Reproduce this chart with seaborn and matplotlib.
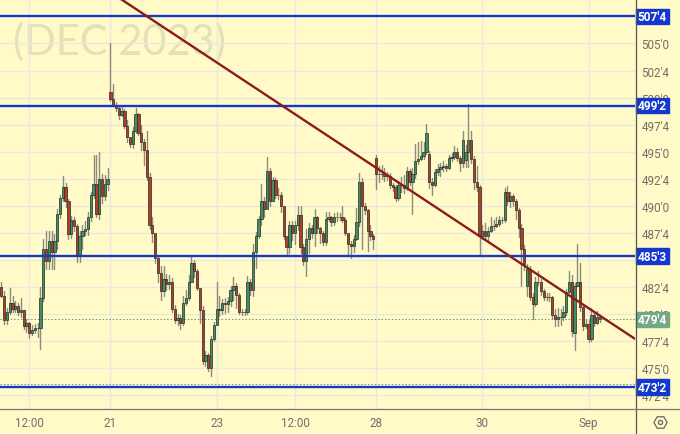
import pandas as pd
import matplotlib
matplotlib.use("Agg")
import matplotlib.pyplot as plt
import seaborn as sns
from matplotlib.lines import Line2D
from matplotlib.patches import Rectangle
from matplotlib.transforms import blended_transform_factory

# candle data (open = previous close unless listed in gap_opens)
first_open = 482.5
gap_opens = {39: 500.55, 134: 494.4, 153: 494.8, 166: 494.2, 188: 482.6, 205: 478.2}

closes = [
    481.65, 479.4, 480.2, 481.0, 480.5, 480.7, 480.2, 480.4, 478.9, 479.2,
    478.25, 478.5, 478.7, 478.75, 481.5, 486.0, 484.9, 486.7, 485.7, 486.75,
    489.2, 490.7, 491.75, 490.4, 487.4, 488.7, 488.1, 485.4, 487.2, 487.7,
    487.9, 489.0, 491.0, 492.0, 489.2, 492.5, 490.9, 492.0, 492.5, 499.9,
    499.35, 499.0, 498.4, 498.75, 497.4, 496.4, 495.75, 496.9, 498.5, 496.75,
    495.9, 495.2, 492.7, 488.2, 487.5, 485.2, 483.8, 482.1, 483.2, 482.8,
    483.0, 480.5, 479.4, 479.6, 479.2, 481.0, 481.5, 483.0, 484.7, 484.0,
    482.4, 480.4, 475.7, 476.2, 475.0, 477.7, 479.0, 480.5, 480.4, 481.0,
    480.9, 481.2, 482.2, 482.6, 481.75, 480.2, 480.2, 480.2, 483.0, 482.2,
    485.75, 487.2, 488.8, 490.45, 489.7, 493.2, 490.45, 492.4, 491.0, 491.0,
    490.0, 487.2, 486.2, 488.2, 487.5, 488.2, 489.15, 486.2, 484.9, 486.9,
    487.95, 487.5, 489.0, 487.95, 487.5, 486.65, 488.8, 489.0, 488.5, 489.0,
    489.0, 489.0, 488.7, 487.5, 486.5, 486.3, 486.9, 488.5, 492.2, 490.0,
    489.6, 487.7, 487.2, 486.9, 492.9, 492.9, 492.9, 492.75, 492.75, 491.9,
    491.75, 490.7, 491.9, 491.9, 491.6, 493.2, 492.2, 492.9, 494.1, 494.3,
    494.6, 495.0, 496.7, 492.2, 491.9, 493.1, 493.4, 493.6, 493.7, 493.5,
    494.4, 494.5, 495.0, 494.4, 494.0, 496.1, 495.0, 496.1, 494.3, 492.2,
    491.75, 487.2, 487.7, 487.2, 487.7, 488.15, 488.15, 488.3, 488.7, 488.7,
    491.3, 490.45, 490.9, 490.45, 489.6, 487.95, 486.0, 484.6, 484.15, 481.6,
    480.9, 483.0, 483.0, 482.1, 481.6, 481.6, 481.6, 479.9, 479.5, 479.7,
    479.7, 480.2, 482.0, 483.0, 478.4, 482.6, 483.0, 480.65, 478.9, 479.1,
    477.7, 479.9, 479.2, 479.7, 479.5,
]
highs = [
    483.0, 482.1, 480.6, 482.4, 481.7, 481.2, 481.0, 481.5, 480.4, 479.5,
    479.3, 479.0, 479.1, 479.2, 482.5, 486.9, 487.7, 487.7, 487.7, 487.4,
    489.7, 491.0, 492.75, 492.1, 490.6, 489.1, 489.0, 488.3, 487.7, 488.2,
    488.6, 489.4, 491.3, 494.7, 494.7, 495.0, 492.9, 492.8, 493.5, 505.0,
    501.3, 499.6, 499.2, 499.1, 498.9, 497.9, 496.3, 497.3, 499.0, 498.6,
    497.5, 496.2, 496.9, 493.0, 489.0, 487.3, 485.4, 484.4, 484.4, 483.7,
    483.6, 483.3, 480.8, 480.0, 479.9, 481.7, 482.2, 483.6, 485.4, 485.0,
    484.2, 482.3, 480.7, 476.6, 476.4, 478.0, 479.3, 483.0, 481.7, 481.4,
    481.5, 481.6, 482.6, 483.4, 482.9, 481.9, 480.5, 480.5, 483.5, 483.2,
    486.5, 487.6, 489.1, 492.0, 490.8, 494.5, 493.5, 492.7, 492.6, 491.6,
    491.3, 489.9, 487.0, 488.6, 488.6, 488.6, 490.0, 490.0, 486.5, 487.9,
    488.4, 488.2, 489.7, 489.1, 488.0, 487.7, 489.4, 489.4, 489.1, 489.3,
    489.4, 489.3, 490.0, 488.9, 487.3, 486.7, 487.3, 489.8, 493.0, 492.6,
    490.3, 489.7, 488.2, 487.4, 494.7, 493.7, 493.8, 493.5, 493.1, 493.0,
    492.1, 491.9, 492.3, 492.7, 492.8, 493.6, 493.4, 493.5, 495.7, 495.9,
    496.0, 495.9, 497.6, 495.1, 492.6, 493.4, 493.9, 494.0, 494.1, 493.9,
    494.7, 494.9, 495.5, 495.3, 494.6, 496.9, 495.6, 499.4, 496.9, 494.6,
    493.7, 491.9, 488.2, 488.4, 488.0, 489.0, 488.7, 489.0, 489.1, 489.0,
    491.6, 491.8, 491.3, 491.1, 490.6, 489.8, 488.3, 486.4, 484.6, 484.4,
    481.9, 483.4, 484.0, 483.2, 482.3, 481.9, 481.9, 481.7, 480.5, 480.6,
    480.5, 480.7, 482.3, 484.0, 483.6, 482.9, 486.5, 484.7, 480.8, 479.5,
    479.4, 480.6, 480.2, 480.3, 479.9,
]
lows = [
    481.55, 479.1, 479.1, 480.0, 480.2, 480.2, 479.9, 479.7, 478.6, 478.3,
    477.8, 478.1, 478.2, 477.9, 476.8, 481.2, 484.2, 484.2, 484.2, 484.2,
    486.0, 488.9, 490.4, 489.9, 486.9, 487.0, 487.7, 484.8, 484.8, 486.0,
    487.3, 487.3, 488.6, 490.7, 489.0, 488.8, 490.3, 490.5, 491.5, 499.7,
    499.2, 498.8, 498.0, 498.3, 497.2, 495.9, 495.4, 495.3, 496.7, 496.5,
    495.2, 493.8, 492.4, 487.9, 486.65, 484.7, 483.0, 481.3, 481.7, 482.2,
    482.3, 480.2, 479.2, 479.0, 478.6, 479.0, 480.8, 481.3, 483.2, 483.4,
    482.2, 479.2, 475.4, 475.2, 474.7, 474.3, 477.5, 479.0, 479.8, 480.0,
    480.1, 480.2, 480.7, 481.3, 480.6, 480.0, 479.9, 479.9, 480.0, 481.75,
    481.7, 484.25, 487.0, 488.2, 489.0, 490.4, 490.0, 490.4, 490.7, 490.6,
    489.4, 486.9, 485.4, 485.6, 486.8, 486.5, 487.8, 485.6, 484.5, 483.5,
    485.6, 487.0, 486.3, 487.5, 486.6, 486.4, 486.4, 488.6, 488.1, 488.2,
    488.6, 488.7, 488.5, 487.3, 485.4, 485.2, 485.7, 486.8, 488.1, 486.0,
    489.2, 485.8, 486.8, 486.0, 491.55, 492.2, 492.5, 492.3, 492.4, 491.6,
    491.4, 490.4, 490.5, 491.3, 491.2, 491.5, 491.9, 489.2, 492.6, 493.9,
    494.2, 494.3, 494.8, 491.6, 491.0, 491.8, 492.8, 492.75, 493.2, 493.2,
    493.4, 494.1, 494.3, 494.1, 493.2, 493.6, 493.6, 493.6, 494.0, 491.55,
    491.4, 485.45, 486.9, 486.8, 486.7, 487.6, 487.8, 488.0, 488.1, 488.4,
    488.5, 490.1, 489.9, 490.0, 488.8, 487.1, 482.6, 484.1, 481.7, 481.3,
    479.5, 480.7, 482.7, 481.8, 481.3, 481.3, 481.2, 479.5, 478.9, 478.9,
    479.0, 479.4, 479.9, 481.9, 478.0, 476.7, 482.6, 480.3, 478.5, 478.7,
    477.4, 477.5, 478.9, 479.1, 479.3,
]

# grid lines sit at every price tick; 485'0 has no visible label, the 485'3 box hides it
price_ticks = [472.5, 475, 477.5, 480, 482.5, 485, 487.5, 490, 492.5, 495, 497.5, 500, 502.5, 505]
price_tick_labels = ["472'4", "475'0", "477'4", "480'0", "482'4", "", "487'4",
                     "490'0", "492'4", "495'0", "497'4", "500'0", "502'4", "505'0"]
time_ticks = [10, 39, 77, 105, 134, 172, 210]
time_tick_labels = ["12:00", "21", "23", "12:00", "28", "30", "Sep"]

levels = [507.5, 499.25, 485.375, 473.25]
level_labels = ["507'4", "499'2", "485'3", "473'2"]
last_price = 479.5
last_label = "479'4"
dotted_level = 473.5
trend_x = [41.6, 226.6]
trend_y = [509.3, 477.7]

# colours
bg = "#fffac8"
grid_col = "#ebe9dc"
blue = "#1438cf"
up_col = "#3f9068"
down_col = "#b23b2a"

sns.set_theme(style="white")
plt.rcParams["font.family"] = ["Roboto", "DejaVu Sans"]

opens = [first_open] + closes[:-1]
for k, v in gap_opens.items():
    opens[k] = v
df = pd.DataFrame({"candle": range(len(closes)), "open": opens, "high": highs, "low": lows, "close": closes})
df["up"] = df["close"] >= df["open"]
wicks = df.melt(id_vars="candle", value_vars=["high", "low"], value_name="price")

fig = plt.figure(figsize=(6.8, 4.35), dpi=100, facecolor=bg)
ax = fig.add_axes([0, 25 / 435, 635 / 680, 410 / 435], facecolor=bg)

ax.text(13 / 635, 1 - 42 / 410, "(DEC 2023)", transform=ax.transAxes, fontsize=30, color="#e4e0b8",
        family="Lato", va="center", ha="left", zorder=0)

sns.lineplot(data=wicks, x="candle", y="price", units="candle", estimator=None, sort=False,
             color="#8c8c7e", linewidth=1.0, legend=False, ax=ax, zorder=3)
ax.bar(df["candle"], (df["close"] - df["open"]).abs(), bottom=df[["open", "close"]].min(axis=1), width=0.82,
       color=[up_col if u else down_col for u in df["up"]], edgecolor="#2a2c1e", linewidth=0.5, zorder=4)

for lv in levels:
    ax.axhline(lv, color=blue, linewidth=1.7, zorder=5)
ax.axhline(last_price, color="#5f9a70", linewidth=0.7, linestyle=(0, (1.5, 2)), zorder=2)
ax.axhline(dotted_level, color="#8a8a78", linewidth=0.7, linestyle=(0, (1.5, 2)), zorder=2)
sns.lineplot(x=trend_x, y=trend_y, color="#8b1c1c", linewidth=1.7, ax=ax, zorder=6)

ax.set_xlim(-0.475, 226.6)
ax.set_ylim(471.22, 509.11)
ax.set_xlabel("")
ax.set_ylabel("")
ax.set_xticks(time_ticks, time_tick_labels)
ax.set_yticks(price_ticks, price_tick_labels)
ax.yaxis.tick_right()
ax.tick_params(axis="x", length=0, pad=5, labelsize=8.4, labelcolor="#6f6f6f")
ax.tick_params(axis="y", length=0, pad=4.6, labelsize=8.4, labelcolor="#6f6f6f")
ax.grid(True, color=grid_col, linewidth=1.0, zorder=1)
ax.set_axisbelow(True)
for s in ax.spines.values():
    s.set_visible(False)

# price boxes on the right axis
box_tr = blended_transform_factory(fig.transFigure, ax.transData)
for lv, lab in zip(levels, level_labels):
    ax.add_patch(Rectangle((636 / 680, lv - 0.72), 33 / 680, 1.44, transform=box_tr, color=blue, clip_on=False, zorder=7))
    ax.text(652.5 / 680, lv - 0.02, lab, transform=box_tr, color="white", fontsize=8.6, fontweight="bold",
            ha="center", va="center", zorder=8, clip_on=False)
ax.add_patch(Rectangle((636 / 680, last_price - 0.72), 33 / 680, 1.44, transform=box_tr, color="#74a988", clip_on=False, zorder=7))
ax.text(652.5 / 680, last_price - 0.02, last_label, transform=box_tr, color="white", fontsize=8.6, fontweight="bold",
        ha="center", va="center", zorder=8, clip_on=False)

# panel borders and settings icon
fig.add_artist(Line2D([635.5 / 680, 635.5 / 680], [0, 1], color="#555555", linewidth=0.9))
fig.add_artist(Line2D([0, 1], [25 / 435, 25 / 435], color="#777777", linewidth=0.9))
fig.add_artist(Line2D([660 / 680], [12 / 435], marker="H", markersize=9.5, markerfacecolor="none",
                      markeredgecolor="#666666", markeredgewidth=0.9))
fig.add_artist(Line2D([660 / 680], [12 / 435], marker="o", markersize=3, markerfacecolor="none",
                      markeredgecolor="#666666", markeredgewidth=0.9))

fig.savefig("out.png", dpi=100, facecolor=bg)
plt.close(fig)
